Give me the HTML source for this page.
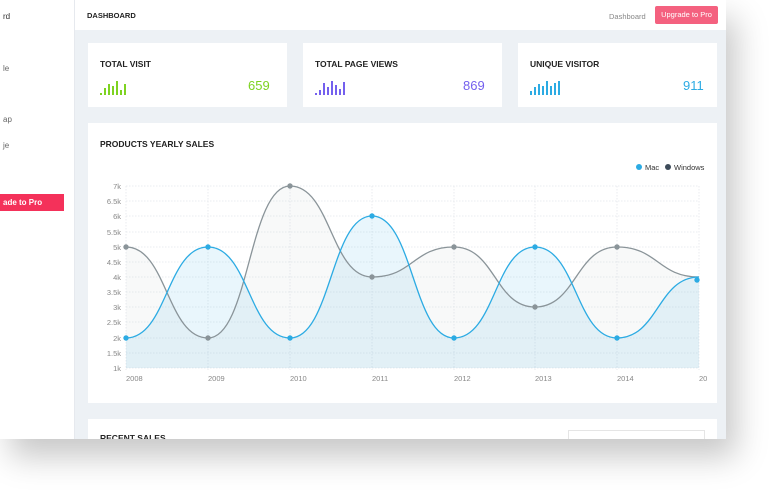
<!DOCTYPE html><html><head><style>
body{margin:0;width:778px;height:491px;background:#fff;overflow:hidden;font-family:"Liberation Sans",sans-serif;position:relative}
.scr{position:absolute;left:0;top:0;width:726px;height:439px;background:#edf1f5;box-shadow:10px 18px 30px rgba(0,0,0,.22);overflow:hidden}
.side{position:absolute;left:0;top:0;width:74px;height:439px;background:#fff;border-right:1px solid #e6e9ee}
.side div{position:absolute;font-size:8px;color:#666}
.hdr{position:absolute;left:75px;top:0;width:651px;height:30px;background:#fff}
.card{position:absolute;background:#fff}
.t{position:absolute;font-size:8.5px;font-weight:bold;color:#222}
.num{position:absolute;font-size:13px}
</style></head><body>
<div class="scr">
<div class="side">
<div style="left:3px;top:12px;color:#333">rd</div>
<div style="left:3px;top:64px">le</div>
<div style="left:3px;top:115px">ap</div>
<div style="left:3px;top:141px">je</div>
<div style="left:0;top:194px;width:64px;height:17px;background:#f4315a;color:#fff;font-weight:bold;line-height:17px;padding-left:3px;box-sizing:border-box">ade to Pro</div>
</div>
<div class="hdr">
<div class="t" style="left:12px;top:11px;font-size:7.5px">DASHBOARD</div>
<div style="position:absolute;left:534px;top:12px;font-size:7.5px;color:#888">Dashboard</div>
<div style="position:absolute;left:580px;top:6px;width:63px;height:18px;background:#f4617f;color:#fff;font-size:7.5px;line-height:18px;text-align:center;border-radius:2px">Upgrade to Pro</div>
</div>
<div class="card" style="left:88px;top:43px;width:199px;height:64px">
<div class="t" style="left:12px;top:16px">TOTAL VISIT</div>
<svg style="position:absolute;left:12px;top:35px" width="30" height="18"><g fill="#7ed321"><rect x="0" y="15" width="2" height="2"/><rect x="4" y="10" width="2" height="7"/><rect x="8" y="6" width="2" height="11"/><rect x="12" y="8" width="2" height="9"/><rect x="16" y="3" width="2" height="14"/><rect x="20" y="12" width="2" height="5"/><rect x="24" y="6" width="2" height="11"/></g></svg>
<div class="num" style="left:160px;top:35px;color:#7ed321">659</div></div>
<div class="card" style="left:303px;top:43px;width:199px;height:64px">
<div class="t" style="left:12px;top:16px">TOTAL PAGE VIEWS</div>
<svg style="position:absolute;left:12px;top:35px" width="36" height="18"><g fill="#7460ee"><rect x="0" y="15" width="2" height="2"/><rect x="4" y="12" width="2" height="5"/><rect x="8" y="5" width="2" height="12"/><rect x="12" y="9" width="2" height="8"/><rect x="16" y="3" width="2" height="14"/><rect x="20" y="7" width="2" height="10"/><rect x="24" y="11" width="2" height="6"/><rect x="28" y="4" width="2" height="13"/></g></svg>
<div class="num" style="left:160px;top:35px;color:#7460ee">869</div></div>
<div class="card" style="left:518px;top:43px;width:199px;height:64px">
<div class="t" style="left:12px;top:16px">UNIQUE VISITOR</div>
<svg style="position:absolute;left:12px;top:35px" width="36" height="18"><g fill="#2cabe3"><rect x="0" y="13" width="2" height="4"/><rect x="4" y="9" width="2" height="8"/><rect x="8" y="6" width="2" height="11"/><rect x="12" y="8" width="2" height="9"/><rect x="16" y="3" width="2" height="14"/><rect x="20" y="8" width="2" height="9"/><rect x="24" y="5" width="2" height="12"/><rect x="28" y="3" width="2" height="14"/></g></svg>
<div class="num" style="left:165px;top:35px;color:#2cabe3">911</div></div>
<div class="card" style="left:88px;top:123px;width:629px;height:280px">
<div class="t" style="left:12px;top:16px">PRODUCTS YEARLY SALES</div>
</div>
<div class="card" style="left:88px;top:419px;width:629px;height:30px">
<div class="t" style="left:12px;top:14px">RECENT SALES</div>
<div style="position:absolute;left:480px;top:11px;width:135px;height:15px;border:1px solid #e5e5e5"></div>
</div>
<svg style="position:absolute;left:0;top:0" width="726" height="439" font-family="Liberation Sans" font-size="7.5" fill="#888">
<circle cx="639" cy="167" r="3" fill="#2cabe3"/><text x="645" y="170" fill="#333">Mac</text>
<circle cx="668" cy="167" r="3" fill="#3d4b5a"/><text x="674" y="170" fill="#333">Windows</text>
<g stroke="#e4e7eb" stroke-dasharray="1.5,1.5" stroke-width="0.8">
<line x1="126" x2="699" y1="186" y2="186"/><line x1="126" x2="699" y1="201" y2="201"/><line x1="126" x2="699" y1="216" y2="216"/><line x1="126" x2="699" y1="232" y2="232"/><line x1="126" x2="699" y1="247" y2="247"/><line x1="126" x2="699" y1="262" y2="262"/><line x1="126" x2="699" y1="277" y2="277"/><line x1="126" x2="699" y1="292" y2="292"/><line x1="126" x2="699" y1="307" y2="307"/><line x1="126" x2="699" y1="322" y2="322"/><line x1="126" x2="699" y1="338" y2="338"/><line x1="126" x2="699" y1="353" y2="353"/><line x1="126" x2="699" y1="368" y2="368"/>
<line x1="126" x2="126" y1="186" y2="370"/><line x1="208" x2="208" y1="186" y2="370"/><line x1="290" x2="290" y1="186" y2="370"/><line x1="372" x2="372" y1="186" y2="370"/><line x1="454" x2="454" y1="186" y2="370"/><line x1="535" x2="535" y1="186" y2="370"/><line x1="617" x2="617" y1="186" y2="370"/><line x1="699" x2="699" y1="186" y2="370"/>
</g>
<g text-anchor="end"><text x="121" y="189">7k</text><text x="121" y="204">6.5k</text><text x="121" y="219">6k</text><text x="121" y="235">5.5k</text><text x="121" y="250">5k</text><text x="121" y="265">4.5k</text><text x="121" y="280">4k</text><text x="121" y="295">3.5k</text><text x="121" y="310">3k</text><text x="121" y="325">2.5k</text><text x="121" y="341">2k</text><text x="121" y="356">1.5k</text><text x="121" y="371">1k</text></g>
<g><text x="126" y="381">2008</text><text x="208" y="381">2009</text><text x="290" y="381">2010</text><text x="372" y="381">2011</text><text x="454" y="381">2012</text><text x="535" y="381">2013</text><text x="617" y="381">2014</text><text x="699" y="381">20</text></g>
<path d="M126,247 C167,247 167,338 208,338 C249,338 249,186 290,186 C331,186 331,277 372,277 C413,277 413,247 454,247 C495,247 495,307 535,307 C576,307 576,247 617,247 C658,247 658,277 699,277 L699,368 L126,368Z" fill="rgba(200,205,210,0.13)"/>
<path d="M126,338 C167,338 167,247 208,247 C249,247 249,338 290,338 C331,338 331,216 372,216 C413,216 413,338 454,338 C495,338 495,247 535,247 C576,247 576,338 617,338 C658,338 658,277 699,277 L699,368 L126,368Z" fill="rgba(44,171,227,0.10)"/>
<path d="M126,247 C167,247 167,338 208,338 C249,338 249,186 290,186 C331,186 331,277 372,277 C413,277 413,247 454,247 C495,247 495,307 535,307 C576,307 576,247 617,247 C658,247 658,277 699,277" fill="none" stroke="#8a9499" stroke-width="1.3"/>
<path d="M126,338 C167,338 167,247 208,247 C249,247 249,338 290,338 C331,338 331,216 372,216 C413,216 413,338 454,338 C495,338 495,247 535,247 C576,247 576,338 617,338 C658,338 658,277 699,277" fill="none" stroke="#2cabe3" stroke-width="1.3"/>
<g fill="#8a9499"><circle cx="126" cy="247" r="2.7"/><circle cx="208" cy="338" r="2.7"/><circle cx="290" cy="186" r="2.7"/><circle cx="372" cy="277" r="2.7"/><circle cx="454" cy="247" r="2.7"/><circle cx="535" cy="307" r="2.7"/><circle cx="617" cy="247" r="2.7"/></g>
<g fill="#2cabe3"><circle cx="126" cy="338" r="2.7"/><circle cx="208" cy="247" r="2.7"/><circle cx="290" cy="338" r="2.7"/><circle cx="372" cy="216" r="2.7"/><circle cx="454" cy="338" r="2.7"/><circle cx="535" cy="247" r="2.7"/><circle cx="617" cy="338" r="2.7"/><circle cx="697" cy="280" r="2.7"/></g>
</svg>
</div>
</body></html>
